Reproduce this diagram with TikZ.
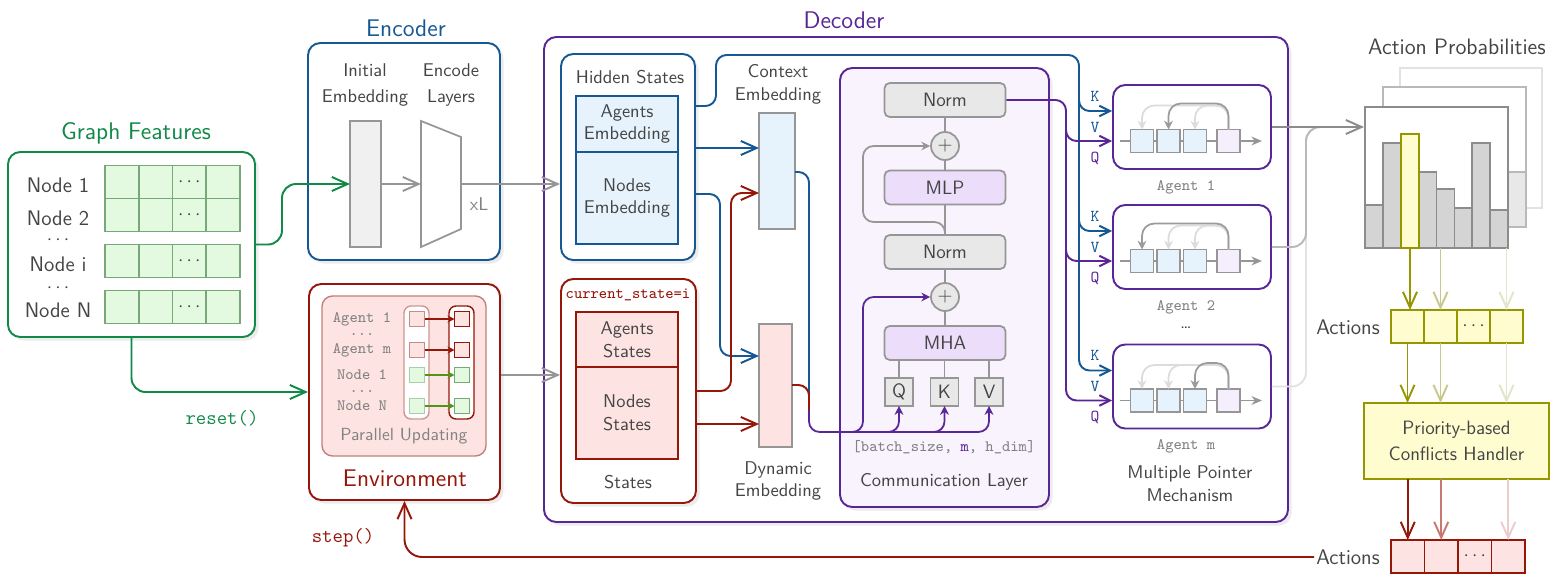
\documentclass[tikz,border=0pt]{standalone}
\usepackage{tikz}
\usetikzlibrary{positioning}
\usetikzlibrary{arrows.meta}
\usetikzlibrary{fit,shadows}
\renewcommand{\familydefault}{\sfdefault}

\definecolor{gfgreen}{RGB}{17,137,72}
\definecolor{cellborder}{RGB}{120,168,120}
\definecolor{lightgreen}{RGB}{228,250,224}
\definecolor{nodearrow}{RGB}{80,150,20}
\definecolor{encblue}{RGB}{22,88,148}
\definecolor{lightblue}{RGB}{230,243,253}
\definecolor{envred}{RGB}{150,22,10}
\definecolor{envpink}{RGB}{253,228,226}
\definecolor{decpurple}{RGB}{88,38,150}
\definecolor{lavbg}{RGB}{248,243,253}
\definecolor{lavfill}{RGB}{236,222,250}
\definecolor{agentlav}{RGB}{245,238,253}
\definecolor{normgray}{RGB}{232,232,232}
\definecolor{boxgray}{RGB}{240,240,240}
\definecolor{midgray}{RGB}{150,150,150}
\definecolor{txtgray}{RGB}{68,68,68}
\definecolor{ttgray}{RGB}{130,130,130}
\definecolor{bargray}{RGB}{212,212,212}
\definecolor{frameA}{RGB}{140,140,140}
\definecolor{frameB}{RGB}{185,185,185}
\definecolor{frameC}{RGB}{226,226,226}
\definecolor{ptrdark}{RGB}{155,155,155}
\definecolor{ptrlight}{RGB}{220,220,220}
\definecolor{olivec}{RGB}{150,150,0}
\definecolor{olivemid}{RGB}{200,200,140}
\definecolor{olivefaint}{RGB}{228,228,200}
\definecolor{redmid}{RGB}{200,120,112}
\definecolor{redfaint}{RGB}{236,204,204}
\definecolor{lightyellow}{RGB}{255,253,208}

\tikzset{wh/.style 2 args={minimum width=#1*0.02cm, minimum height=#2*0.02cm}}

\begin{document}
\begin{tikzpicture}[
        x=0.02cm, y=-0.02cm,
        font=\fontsize{10.5}{13}\selectfont, text=txtgray,
        panel/.style={rectangle, draw, line width=1.1pt, fill=white, rounded corners=7pt, inner sep=0pt, drop shadow={opacity=0.15, shadow xshift=2pt, shadow yshift=-2pt}},
        probframe/.style={rectangle, line width=1.1pt, fill=white, inner sep=0pt},
        slot/.style={rectangle, draw, line width=0.9pt, inner sep=0pt, outer sep=0pt, align=center},
        blk/.style={rectangle, draw=midgray, line width=1pt, rounded corners=3pt, wh={121}{34}, font=\fontsize{11}{13}\selectfont},
        sumnode/.style={circle, draw=midgray, fill=normgray, line width=1pt, inner sep=0pt, minimum size=0.56cm, font=\fontsize{11}{13}\selectfont},
        title/.style={font=\fontsize{13.7}{16}\selectfont},
        big/.style={font=\fontsize{12}{14}\selectfont, inner sep=1pt},
        twoline/.style={align=center, font=\fontsize{10.5}{15}\selectfont},
        mono/.style={font=\ttfamily\fontsize{9}{11}\selectfont, text=ttgray},
        dotnode/.style={inner sep=0pt},
        arrow/.style={line width=1.1pt, -{Straight Barb[length=9pt,width=8pt]}},
        sarrow/.style={line width=1.1pt, -{Straight Barb[length=6pt,width=6pt]}},
        stip/.style={line width=1pt, -{Stealth[length=5pt,width=5pt]}},
        wire/.style={line width=1pt, draw=midgray},
    ]
        \path[use as bounding box, fill=white] (0,0) rectangle (1553,575);

        % Graph Features
        \node[panel, draw=gfgreen] (gf) [fit={(8,152) (255,337)}] {};
        \node[title, text=gfgreen] (gftitle) at (136,133) {Graph Features};
        \node[big] (row1) at (58,185) {Node 1};
        \node[big] (row2) at (58,218) {Node 2};
        \node[dotnode] (rowdots1) at (58,240) {$\cdots$};
        \node[big] (rowi) at (58,264) {Node i};
        \node[dotnode] (rowdots2) at (58,288) {$\cdots$};
        \node[big] (rowN) at (58,310) {Node N};
        \foreach \rw/\y in {1/182, 2/215, i/261, N/307} {
            \foreach \col in {1,...,4}
                \node[slot, draw=cellborder, fill=lightgreen, wh={33.75}{33}] (gf\rw\col) at ({105+(\col-0.5)*33.75},\y) {};
            \node[dotnode] at (gf\rw3) {$\cdots$};
        }

        % Encoder
        \node[panel, draw=encblue] (enc) [fit={(308,43) (500,260)}] {};
        \node[title, text=encblue] (enctitle) at (406,28) {Encoder};
        \node[twoline] (initlbl) at (365,85) {Initial\\Embedding};
        \node[twoline] (laylbl) at (451,85) {Encode\\Layers};
        \node[slot, draw=midgray, fill=boxgray, wh={31}{126}] (init) at (365.5,184) {};
        \draw[wire, fill=white] (421,121) -- (461,137) -- (461,229) -- (421,247) -- cycle;
        \coordinate (layin) at (421,184);
        \coordinate (layout) at (461,184);
        \node[text=ttgray] (xl) at (479,204) {xL};

        % Environment
        \node[panel, draw=envred] (env) [fit={(309,284) (500,500)}] {};
        \node[rectangle, draw=envred!55, fill=envpink, line width=0.8pt, rounded corners=6pt, inner sep=0pt] (upd) [fit={(322,296) (486,456)}] {};
        \node[title, text=envred] (envtitle) at (405,478) {Environment};
        \node[rectangle, draw=envred!45, fill=white, line width=0.8pt, rounded corners=4pt, inner sep=0pt] (oldcol) [fit={(404,306) (429,419)}] {};
        \node[rectangle, draw=envred, fill=white, line width=0.8pt, rounded corners=4pt, inner sep=0pt] (newcol) [fit={(449,306) (474,419)}] {};
        \foreach \id/\y/\txt/\fc/\ocl/\ncl/\acl in {a1/319/Agent 1/envpink/envred!50/envred/envred,
                am/350/Agent m/envpink/envred!50/envred/envred,
                n1/375/Node 1/lightgreen/cellborder!60/cellborder/nodearrow,
                nN/406/Node N/lightgreen/cellborder!60/cellborder/nodearrow} {
            \node[mono, inner sep=1pt] (t\id) at (362,\y) {\txt};
            \node[slot, fill=\fc, draw=\ocl, wh={15}{15}] (o\id) at (417,\y) {};
            \node[slot, fill=\fc, draw=\ncl, wh={15}{15}] (n\id) at (462,\y) {};
            \draw[line width=0.8pt, \acl, -{Stealth[length=4pt,width=4pt]}] (o\id) -- (n\id);
        }
        \node[mono, dotnode] (tdots1) at (362,334) {...};
        \node[mono, dotnode] (tdots2) at (362,391) {...};
        \node[font=\fontsize{10}{12}\selectfont, text=ttgray] (updlbl) at (404,436) {Parallel Updating};
        \node[font=\ttfamily\fontsize{11.5}{13}\selectfont, text=gfgreen] (reset) at (222,418) {reset()};
        \node[font=\ttfamily\fontsize{11.5}{13}\selectfont, text=envred] (step) at (343,538) {step()};

        % Decoder
        \node[panel, draw=decpurple] (dec) [fit={(544,37) (1288,522)}] {};
        \node[title, text=decpurple] (dectitle) at (844,20) {Decoder};

        \node[panel, draw=encblue] (hs) [fit={(561,54) (695,260)}] {};
        \node (hslbl) at (630,77) {Hidden States};
        \node[slot, draw=encblue, fill=lightblue, wh={102}{56}] (agemb) at (627,124) {Agents\\Embedding};
        \node[slot, draw=encblue, fill=lightblue, wh={102}{92}, below=0pt of agemb] (ndemb) {Nodes\\Embedding};

        \node[panel, draw=envred] (st) [fit={(561,279) (696,503)}] {};
        \node[mono, text=envred] (cur) at (628,295) {current\_state=i};
        \node[slot, draw=envred, fill=envpink, wh={102}{55}] (agst) at (627,339.5) {Agents\\States};
        \node[slot, draw=envred, fill=envpink, wh={102}{92}, below=0pt of agst] (ndst) {Nodes\\States};
        \node (stlbl) at (628,482) {States};

        \node[align=center] (ctxlbl) at (778,84) {Context\\Embedding};
        \node[slot, draw=midgray, fill=lightblue, wh={36}{116}] (ctx) at (777,171) {};
        \node[slot, draw=midgray, fill=envpink, wh={33}{123}] (dyn) at (775.5,385.5) {};
        \node[align=center] (dynlbl) at (778,481) {Dynamic\\Embedding};

        % Communication Layer
        \node[panel, draw=decpurple, fill=lavbg] (comm) [fit={(840,68) (1049,507)}] {};
        \node[blk, fill=normgray] (norm2) at (945,100) {Norm};
        \node[sumnode] (plus1) at (945,146) {$+$};
        \node[blk, fill=lavfill] (mlp) at (945,187.5) {MLP};
        \node[blk, fill=normgray] (norm1) at (945,252) {Norm};
        \node[sumnode] (plus2) at (945,297) {$+$};
        \node[blk, fill=lavfill] (mha) at (945,343) {MHA};
        \node[slot, draw=midgray, fill=normgray, wh={28}{28}, font=\fontsize{11}{13}\selectfont] (q) at (899,392) {Q};
        \node[slot, draw=midgray, fill=normgray, wh={28}{28}, font=\fontsize{11}{13}\selectfont] (k) at (944.5,392) {K};
        \node[slot, draw=midgray, fill=normgray, wh={28}{28}, font=\fontsize{11}{13}\selectfont] (v) at (989,392) {V};
        \node[mono] (shape) at (944,447) {[batch\_size, \textcolor{decpurple}{m}, h\_dim]};
        \node (commlbl) at (944,482) {Communication Layer};

        \draw[wire] (mha) -- (plus2);
        \draw[wire] (plus2) -- (norm1);
        \draw[wire] (norm1) -- (mlp);
        \draw[wire] (mlp) -- (plus1);
        \draw[wire] (plus1) -- (norm2);
        \draw[wire] (q.north) -- (q.north |- mha.south);
        \draw[wire] (k.north) -- (k.north |- mha.south);
        \draw[wire] (v.north) -- (v.north |- mha.south);
        \draw[wire, stip, rounded corners=6pt] (norm1.north) |- (863,222) |- (plus1.west);

        % Multiple Pointer Mechanism
        \foreach \a/\cy/\lbl/\dk in {1/127/Agent 1/2, 2/247/Agent 2/1, 3/386.5/Agent m/3} {
            \node[rectangle, draw=decpurple, fill=white, line width=1.1pt, rounded corners=7pt, inner sep=0pt] (ag\a) [fit={(1113,\cy-42) (1271,\cy+42)}] {};
            \node[mono] (ag\a lbl) at (1186,\cy+60) {\lbl};
            \draw[wire, -{Stealth[length=6pt,width=5pt]}] (1120,\cy+14) -- (1262,\cy+14);
            \foreach \sq/\sx in {1/1142, 2/1168.5, 3/1195}
                \node[slot, draw=midgray, fill=lightblue, wh={23}{23}] (p\a s\sq) at (\sx,\cy+14) {};
            \node[slot, draw=midgray, fill=agentlav, wh={23}{23}] (p\a s4) at (1228.5,\cy+14) {};
            \foreach \sq in {1,2,3} {
                \ifnum\sq=\dk\relax\else
                    \draw[line width=1pt, ptrlight, rounded corners=7pt, -{Stealth[length=5pt,width=5pt]}] (p\a s4.north) -- ++(0,-24) -| (p\a s\sq.north);
                \fi
            }
            \draw[line width=1pt, ptrdark, rounded corners=7pt, -{Stealth[length=5pt,width=5pt]}] (p\a s4.north) -- ++(0,-26) -| (p\a s\dk.north);
            \node[font=\ttfamily\fontsize{9.5}{11}\selectfont, text=encblue] (kl\a) at (1095,\cy-31) {K};
            \node[font=\ttfamily\fontsize{9.5}{11}\selectfont, text=encblue] (vl\a) at (1095,\cy) {V};
            \node[font=\ttfamily\fontsize{9.5}{11}\selectfont, text=decpurple] (ql\a) at (1095,\cy+31) {Q};
        }
        \node[dotnode] (agdots) at (1186,328) {\ldots};
        \node[align=center] (mpm) at (1190,484) {Multiple Pointer\\Mechanism};

        % Action Probabilities
        \node[font=\fontsize{12.7}{15}\selectfont] (aptitle) at (1457,47) {Action Probabilities};
        \node[probframe, draw=frameC] (ap3) [fit={(1400,68) (1542,208)}] {};
        \node[probframe, draw=frameB] (ap2) [fit={(1383,87) (1526,227)}] {};
        \node[probframe, draw=frameB, fill=normgray] (ap2bar) [fit={(1508,172) (1526,227)}] {};
        \node[probframe, draw=frameA] (ap1) [fit={(1365,107) (1508,248)}] {};
        \foreach \i/\top in {0/205, 1/143, 3/172, 4/189, 5/208, 6/143, 7/210}
            \draw[line width=1pt, draw=frameA, fill=bargray] ({1365+\i*17.875},248) rectangle ({1365+(\i+1)*17.875},\top);
        \node[probframe, draw=olivec, fill=lightyellow] (pick) [fit={(1401,134) (1419,248)}] {};
        \coordinate (sel2) at (1440.5,248);
        \coordinate (sel3) at (1506.5,248);

        % Actions
        \node[big] (yalbl) at (1348,327) {Actions};
        \foreach \col in {1,...,4}
            \node[slot, draw=olivec, fill=lightyellow, wh={33}{33}] (ya\col) at ({1391+(\col-0.5)*33},326.5) {};
        \node[dotnode] (yadots) at (ya3) {$\cdots$};
        \node[slot, draw=olivec, fill=lightyellow, wh={185}{76}, font=\fontsize{11}{15}\selectfont] (cfh) at (1456.5,441) {Priority-based\\Conflicts Handler};
        \node[big] (ralbl) at (1348,557) {Actions};
        \foreach \col in {1,...,4}
            \node[slot, draw=envred, fill=envpink, wh={33.5}{33}] (ra\col) at ({1391+(\col-0.5)*33.5},556.5) {};
        \node[dotnode] (radots) at (ra3) {$\cdots$};

        % Connections
        \draw[arrow, gfgreen, rounded corners=8pt] (gf.east) -| (282,184) -- (init.west);
        \draw[arrow, gfgreen, rounded corners=8pt] (gf.south) |- (env.west);
        \draw[arrow, midgray] (init.east) -- (layin);
        \draw[arrow, midgray] (layout) -- (hs.west |- layout);
        \draw[arrow, midgray] (env.east |- 0,375) -- (st.west |- 0,375);

        \draw[arrow, encblue] (hs.east |- 0,148) -- (ctx.west |- 0,148);
        \draw[arrow, encblue, rounded corners=6pt] (hs.east |- 0,194) -| (720,356) -- (dyn.west |- 0,356);
        \draw[arrow, envred, rounded corners=6pt] (st.east |- 0,391) -| (731,193) -- (ctx.west |- 0,193);
        \draw[arrow, envred] (st.east |- 0,424) -- (dyn.west |- 0,424);

        \draw[line width=1.1pt, encblue, rounded corners=6pt] (ctx.east |- 0,172) -| (809,414);
        \draw[line width=1.1pt, envred, rounded corners=6pt] (dyn.east |- 0,385) -| (809,414);
        \draw[line width=1.1pt, decpurple, stip, rounded corners=6pt] (809,410) |- (v.south |- 0,432) -- (v.south);
        \draw[line width=1.1pt, decpurple, stip, rounded corners=6pt] (870,432) -| (q.south);
        \draw[line width=1.1pt, decpurple, stip, rounded corners=6pt] (915,432) -| (k.south);
        \draw[line width=1.1pt, decpurple, stip, rounded corners=6pt] (840,432) -| (863,297) -- (plus2.west);

        \draw[sarrow, encblue, rounded corners=6pt] (hs.east |- 0,106) -| (716,55) -| (1079,370.5) -- (ag3.west |- 0,370.5);
        \draw[sarrow, encblue, rounded corners=6pt] (1079,80) |- (ag1.west |- 0,111);
        \draw[sarrow, encblue, rounded corners=6pt] (1079,200) |- (ag2.west |- 0,231);
        \draw[sarrow, decpurple, rounded corners=6pt] (norm2.east) -| (1066,400.5) -- (ag3.west |- 0,400.5);
        \draw[sarrow, decpurple, rounded corners=6pt] (1066,115) |- (ag1.west |- 0,141);
        \draw[sarrow, decpurple, rounded corners=6pt] (1066,235) |- (ag2.west |- 0,261);

        \draw[line width=1.1pt, frameC, rounded corners=8pt] (ag3.east) -| (1306,127) -- (1335,127);
        \draw[line width=1.1pt, frameB, rounded corners=8pt] (ag2.east) -| (1306,127) -- (1335,127);
        \draw[arrow, frameA] (ag1.east) -- (ap1.west |- ag1.east);

        \draw[arrow, olivec] (pick.south) -- (pick.south |- ya1.north);
        \draw[arrow, olivemid] (sel2) -- (sel2 |- ya2.north);
        \draw[arrow, olivefaint] (sel3) -- (sel3 |- ya4.north);
        \draw[arrow, olivec] (ya1.south) -- (ya1.south |- cfh.north);
        \draw[arrow, olivemid] (ya2.south) -- (ya2.south |- cfh.north);
        \draw[arrow, olivefaint] (ya4.south) -- (ya4.south |- cfh.north);
        \draw[arrow, envred] (ra1.north |- cfh.south) -- (ra1.north);
        \draw[arrow, redmid] (ra2.north |- cfh.south) -- (ra2.north);
        \draw[arrow, redfaint] (ra4.north |- cfh.south) -- (ra4.north);
        \draw[arrow, envred, rounded corners=10pt] (ralbl.west) -| (env.south);
\end{tikzpicture}
\end{document}
